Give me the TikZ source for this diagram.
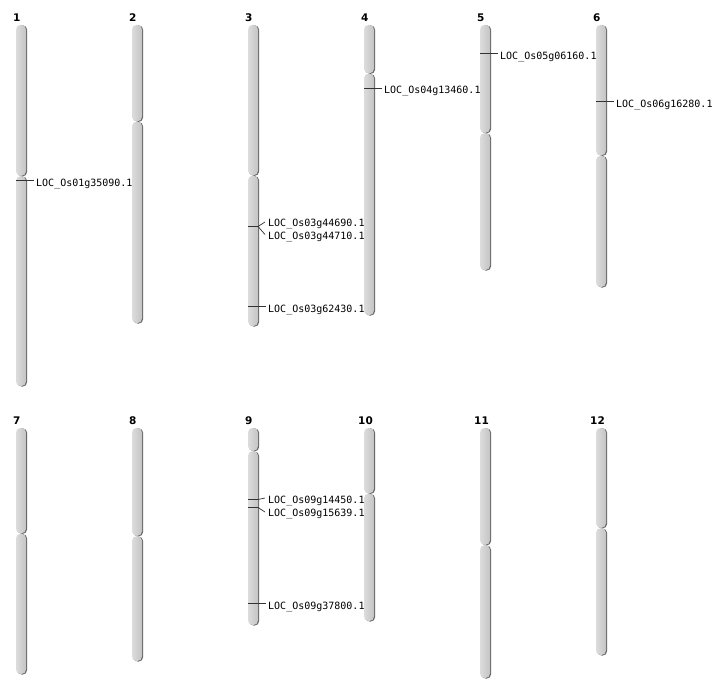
\documentclass[tikz,border=0pt]{standalone}
\usepackage{fontspec}
\newfontfamily\monof{DejaVu Sans Mono}
\newfontfamily\numf{DejaVu Sans}
\definecolor{armleft}{HTML}{DCDCDC}
\definecolor{armright}{HTML}{C4C4C4}
\definecolor{armshade}{HTML}{666666}
\definecolor{mkcol}{HTML}{333333}
\tikzset{
  lab/.style={anchor=west, inner xsep=2pt, inner ysep=0pt, font=\monof\fontsize{10}{12}\selectfont, text=black},
  numlab/.style={anchor=west, inner sep=0pt, font=\numf\bfseries\fontsize{10.5}{12}\selectfont, text=black},
  mk/.style={draw=mkcol, line width=1pt},
  fan/.style={draw=mkcol, line width=0.7pt},
}
\newcommand\armpiece[3]{% x, y1, y2
  \fill[armshade, rounded corners=4.5pt] (#1+1.3,#2+0.3) rectangle (#1+11.1,#3+0.6);
  \shade[left color=armleft, right color=armright, rounded corners=4.5pt] (#1,#2) rectangle (#1+10,#3);
}
\newcommand\chromo[4]{% x, top, cen, bot
  \armpiece{#1}{#2}{#3-0.2}
  \armpiece{#1}{#3+0.2}{#4}
}
\begin{document}
\begin{tikzpicture}[x=1pt,y=-1pt]
\useasboundingbox[fill=white] (0,0) rectangle (712,700);
% chromosome numbers
\node[numlab] (n1) at (13,17.5) {1};
\node[numlab] (n2) at (129,17.5) {2};
\node[numlab] (n3) at (245,17.5) {3};
\node[numlab] (n4) at (361,17.5) {4};
\node[numlab] (n5) at (477,17.5) {5};
\node[numlab] (n6) at (593,17.5) {6};
\node[numlab] (n7) at (13,420.5) {7};
\node[numlab] (n8) at (129,420.5) {8};
\node[numlab] (n9) at (245,420.5) {9};
\node[numlab] (n10) at (358,420.5) {10};
\node[numlab] (n11) at (474,420.5) {11};
\node[numlab] (n12) at (590,420.5) {12};
% chromosomes
\chromo{16}{25}{176}{386}
\chromo{132}{25}{121.5}{323}
\chromo{248}{25}{175.5}{326}
\chromo{364}{25}{73.5}{315}
\chromo{480}{25}{133}{270}
\chromo{596}{25}{155.5}{287}
\chromo{16}{428}{533.5}{674}
\chromo{132}{428}{536}{661}
\chromo{248}{428}{451}{625}
\chromo{364}{428}{493.5}{621}
\chromo{480}{428}{545}{678}
\chromo{596}{428}{528}{655}
% markers
\coordinate (m1) at (16,180.5);
\node[lab] (l1) at (34,183.5) {LOC\_Os01g35090.1};
\draw[mk] (m1) -- (m1 -| l1.west);
\coordinate (m4) at (364,88.5);
\node[lab] (l4) at (382,91) {LOC\_Os04g13460.1};
\draw[mk] (m4) -- (m4 -| l4.west);
\coordinate (m5) at (480,53.5);
\node[lab] (l5) at (498,56.5) {LOC\_Os05g06160.1};
\draw[mk] (m5) -- (m5 -| l5.west);
\coordinate (m6) at (596,101.5);
\node[lab] (l6) at (614,104.5) {LOC\_Os06g16280.1};
\draw[mk] (m6) -- (m6 -| l6.west);
% chr 3
\coordinate (m3a) at (248,226.5);
\coordinate (k3) at (258,226.5);
\coordinate (e3a) at (265,222);
\coordinate (e3b) at (265,234.5);
\node[lab] (l3a) at (266,224) {LOC\_Os03g44690.1};
\node[lab] (l3b) at (266,237) {LOC\_Os03g44710.1};
\draw[mk] (m3a) -- (k3);
\draw[fan] (k3) -- (e3a);
\draw[fan] (k3) -- (e3b);
\coordinate (m3c) at (248,306.5);
\node[lab] (l3c) at (266,309.5) {LOC\_Os03g62430.1};
\draw[mk] (m3c) -- (m3c -| l3c.west);
% chr 9
\coordinate (m9a) at (248,499.5);
\coordinate (k9a) at (258,499.5);
\coordinate (m9b) at (248,507.5);
\coordinate (k9b) at (258,507.5);
\coordinate (e9a) at (265,498);
\coordinate (e9b) at (265,512);
\node[lab] (l9a) at (266,501) {LOC\_Os09g14450.1};
\node[lab] (l9b) at (266,514) {LOC\_Os09g15639.1};
\draw[mk] (m9a) -- (k9a);
\draw[fan] (k9a) -- (e9a);
\draw[mk] (m9b) -- (k9b);
\draw[fan] (k9b) -- (e9b);
\coordinate (m9c) at (248,603.5);
\node[lab] (l9c) at (266,606.5) {LOC\_Os09g37800.1};
\draw[mk] (m9c) -- (m9c -| l9c.west);
\end{tikzpicture}
\end{document}
